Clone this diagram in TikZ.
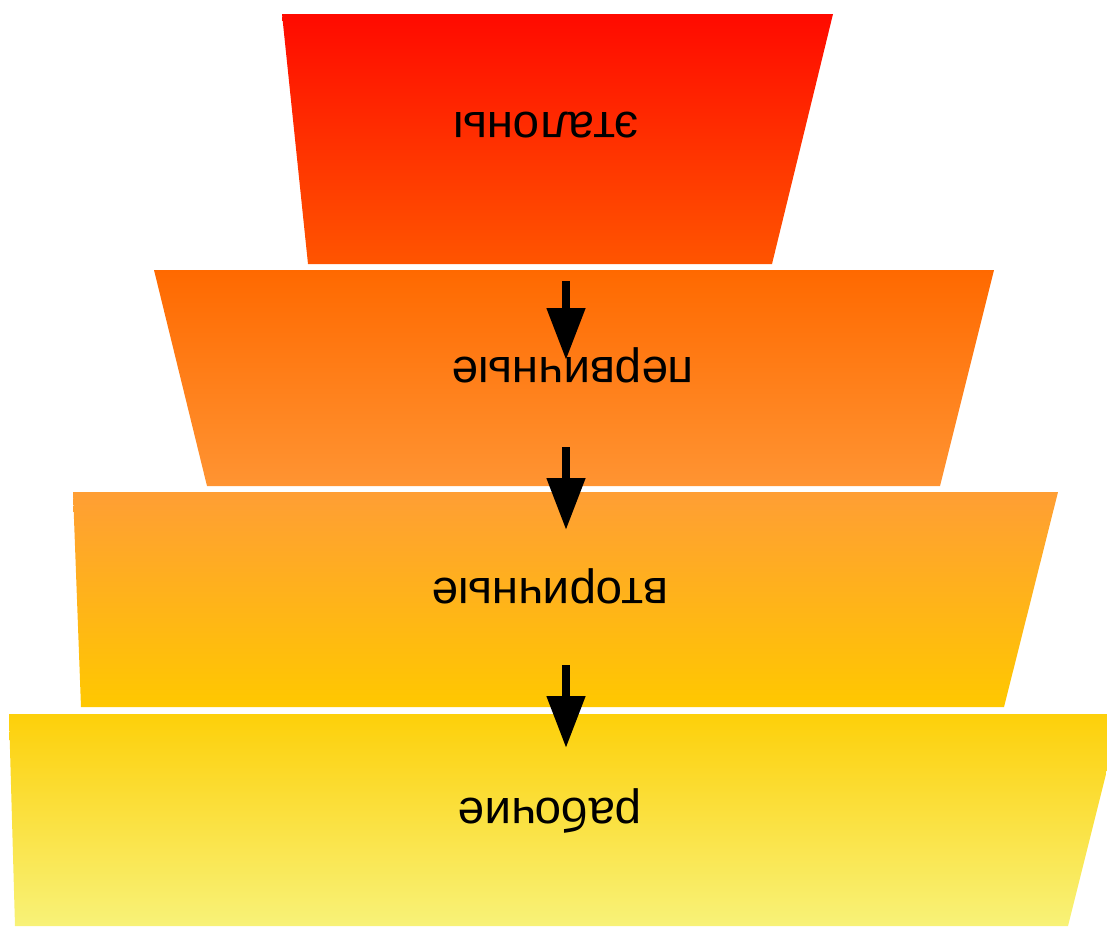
\documentclass[tikz,border=0pt]{standalone}
\usepackage{fontspec}
\setmainfont{Liberation Sans}
\usetikzlibrary{arrows.meta}
\definecolor{c1t}{RGB}{255,10,0}
\definecolor{c1b}{RGB}{255,85,0}
\definecolor{c2t}{RGB}{255,105,0}
\definecolor{c2b}{RGB}{255,148,50}
\definecolor{c3t}{RGB}{255,158,52}
\definecolor{c3b}{RGB}{255,200,0}
\definecolor{c4t}{RGB}{253,208,10}
\definecolor{c4b}{RGB}{248,242,120}
\tikzset{
  lbl/.style={anchor=base, rotate=180, inner sep=0pt, font=\fontsize{47.5}{52}\selectfont},
  flow/.style={line width=8pt, -{Triangle[width=37pt,length=52pt]}}
}
\begin{document}
\begin{tikzpicture}[x=1pt,y=-1pt]
\useasboundingbox (0,0) rectangle (1107,926);
\clip (0,0) rectangle (1107,926);
\shade[top color=c1t, bottom color=c1b] (282,14) -- (833,14) -- (772,264) -- (308,264) -- cycle;
\shade[top color=c2t, bottom color=c2b] (154,270) -- (994,270) -- (940,486) -- (207,486) -- cycle;
\shade[top color=c3t, bottom color=c3b] (73,492) -- (1058,492) -- (1004,707) -- (81,707) -- cycle;
\shade[top color=c4t, bottom color=c4b] (9,714) -- (1121,714) -- (1068,926) -- (15,926) -- cycle;
\node[lbl] (t1) at (546,112) {эталоны};
\node[lbl] (t2) at (573,357) {первичные};
\node[lbl] (t3) at (550,578) {вторичные};
\node[lbl] (t4) at (550,798) {рабочие};
\coordinate (a1s) at (566,281);
\coordinate (a1e) at (566,360);
\coordinate (a2s) at (566,447);
\coordinate (a2e) at (566,530);
\coordinate (a3s) at (566,665);
\coordinate (a3e) at (566,748);
\draw[flow] (a1s) -- (a1e);
\draw[flow] (a2s) -- (a2e);
\draw[flow] (a3s) -- (a3e);
\end{tikzpicture}
\end{document}
